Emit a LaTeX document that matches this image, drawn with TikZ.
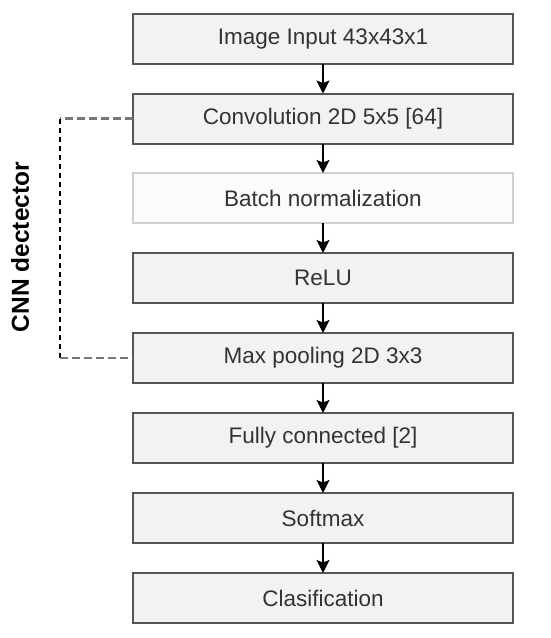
\documentclass[tikz,border=0pt]{standalone}
\usepackage{fontspec}
\setmainfont{Liberation Sans}
\usepackage{xcolor}
\definecolor{bordgris}{HTML}{555555}
\definecolor{fondgris}{HTML}{F2F2F2}
\definecolor{bordclair}{HTML}{CFCFCF}
\definecolor{fondclair}{HTML}{FBFBFB}
\definecolor{textegris}{HTML}{333333}
\definecolor{tiret}{HTML}{777777}
\usepackage{tikz}
\usetikzlibrary{positioning,arrows.meta,calc}

\begin{document}
\begin{tikzpicture}[x=1pt,y=1pt,
  couche/.style={draw=bordgris,fill=fondgris,line width=2pt,minimum width=380pt,minimum height=50pt,outer sep=0pt,inner sep=0pt,text=textegris,font=\fontsize{22.5}{26}\selectfont},
  coucheclaire/.style={couche,draw=bordclair,fill=fondclair},
  fl/.style={-{Stealth[length=13pt,width=13pt,inset=2.5pt]},black,line width=1.8pt},
  lien/.style={dashed,dash pattern=on 8pt off 4pt,line width=2.6pt}
]
\useasboundingbox (0,0) rectangle (550,-638);
% couches du reseau
\node[couche] (entree) at (323,-38.5) {Image Input 43x43x1};
\node[couche] (conv) at (323,-118.5) {Convolution 2D 5x5 [64]};
\node[coucheclaire] (norm) at (323,-198) {Batch normalization};
\node[couche] (relu) at (323,-278) {ReLU};
\node[couche] (pool) at (323,-358) {Max pooling 2D 3x3};
\node[couche] (fc) at (323,-438) {Fully connected [2]};
\node[couche] (soft) at (323,-518) {Softmax};
\node[couche] (classif) at (323,-598) {Clasification};
% fleches
\draw[fl] (entree)--(conv); \draw[fl] (conv)--(norm); \draw[fl] (norm)--(relu);
\draw[fl] (relu)--(pool); \draw[fl] (pool)--(fc); \draw[fl] (fc)--(soft);
\draw[fl] (soft)--(classif);
% accolade du detecteur
\coordinate (haut) at (60,-118.5);
\coordinate (bas) at (60,-358);
\draw[lien,tiret] (conv.west)--(haut);
\draw[lien,black,dash pattern=on 5pt off 4pt,line width=1.6pt] (haut)--(bas);
\draw[lien,tiret] (bas)--(pool.west);
\node[rotate=90,font=\fontsize{24.5}{28}\selectfont\bfseries] (titre) at (20,-247) {CNN dectector};
\end{tikzpicture}
\end{document}
